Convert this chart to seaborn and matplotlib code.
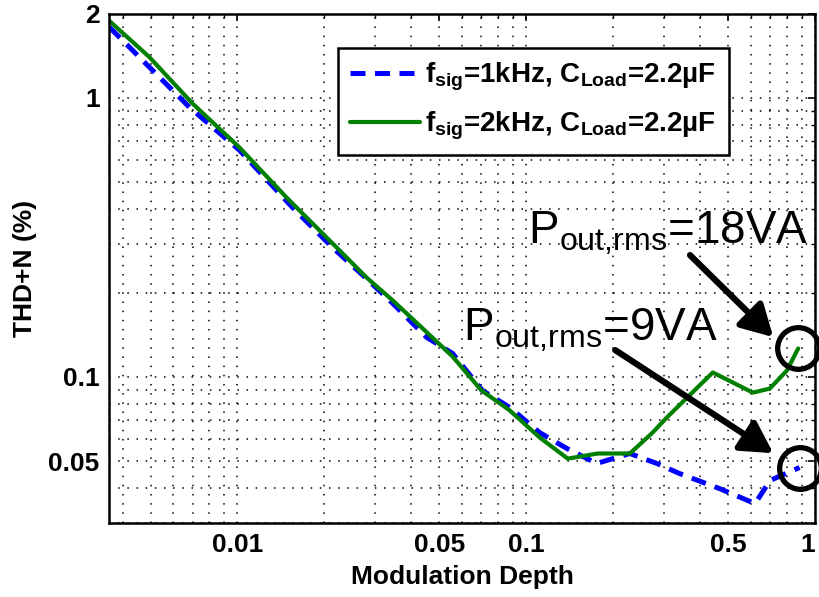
import matplotlib
matplotlib.use('Agg')
import matplotlib.pyplot as plt
from matplotlib.ticker import FixedLocator, FixedFormatter, LogLocator, NullFormatter
import seaborn as sns

# f_sig = 1 kHz (blue dashed)
depth_1k = [0.0036, 0.00433, 0.00682, 0.01016, 0.0155, 0.02134, 0.028, 0.0345, 0.0452,
            0.0556, 0.0705, 0.0877, 0.1114, 0.1381, 0.1755, 0.2286, 0.2836, 0.3397,
            0.4684, 0.6207, 0.699, 0.885]
thd_1k = [1.79, 1.48, 0.925, 0.649, 0.405, 0.291, 0.225, 0.1835, 0.1387,
          0.1214, 0.0895, 0.0778, 0.0632, 0.0555, 0.049, 0.0532, 0.049, 0.0451,
          0.0398, 0.0352, 0.0426, 0.0474]

# f_sig = 2 kHz (green solid)
depth_2k = [0.0036, 0.00495, 0.00698, 0.01016, 0.01477, 0.02258, 0.028, 0.0345, 0.0556,
            0.070, 0.0877, 0.1114, 0.1393, 0.177, 0.2286, 0.274, 0.307, 0.443,
            0.610, 0.698, 0.800, 0.875]
thd_2k = [1.885, 1.40, 0.955, 0.664, 0.440, 0.284, 0.227, 0.188, 0.1184,
          0.0895, 0.0759, 0.0607, 0.051, 0.0532, 0.0532, 0.0632, 0.0716, 0.1038,
          0.0879, 0.0909, 0.1055, 0.1265]

x_ticks = [0.01, 0.05, 0.1, 0.5, 1]
x_tick_labels = ['0.01', '0.05', '0.1', '0.5', '1']
y_ticks = [0.05, 0.1, 1, 2]
y_tick_labels = ['0.05', '0.1', '1', '2']

label_1k = r'f$\mathregular{_{sig}}$=1kHz, C$\mathregular{_{Load}}$=2.2µF'
label_2k = r'f$\mathregular{_{sig}}$=2kHz, C$\mathregular{_{Load}}$=2.2µF'
note_18 = r'P$\mathregular{_{out{,}rms}}$=18VA'
note_9 = r'P$\mathregular{_{out{,}rms}}$=9VA'

sns.set_style('white')
plt.rcParams['font.family'] = ['Liberation Sans', 'DejaVu Sans']
plt.rcParams['mathtext.default'] = 'regular'
plt.rcParams['text.color'] = 'k'
plt.rcParams['axes.labelcolor'] = 'k'
plt.rcParams['xtick.color'] = 'k'
plt.rcParams['ytick.color'] = 'k'

fig = plt.figure(figsize=(8.19, 5.97), dpi=100)
ax = fig.add_axes([0.1335, 0.124, 0.8615, 0.853])

sns.lineplot(x=depth_1k, y=thd_1k, ax=ax, color='#0000ff', lw=3.6,
             linestyle=(0, (3, 1.9)), sort=False, label=label_1k)
sns.lineplot(x=depth_2k, y=thd_2k, ax=ax, color='#008000', lw=3.0,
             sort=False, label=label_2k)

ax.set_xscale('log')
ax.set_yscale('log')
ax.set_xlim(0.0036, 1)
ax.set_ylim(0.03, 2)

ax.xaxis.set_major_locator(FixedLocator(x_ticks))
ax.xaxis.set_major_formatter(FixedFormatter(x_tick_labels))
ax.yaxis.set_major_locator(FixedLocator(y_ticks))
ax.yaxis.set_major_formatter(FixedFormatter(y_tick_labels))
ax.xaxis.set_minor_locator(LogLocator(base=10, subs=range(1, 10), numticks=20))
ax.yaxis.set_minor_locator(LogLocator(base=10, subs=range(1, 10), numticks=20))
ax.xaxis.set_minor_formatter(NullFormatter())
ax.yaxis.set_minor_formatter(NullFormatter())

ax.grid(True, which='both', color='k', lw=1.1, linestyle=(0, (1, 5)))
ax.tick_params(which='both', direction='in', top=True, right=True, color='k')
ax.tick_params(which='major', length=5, width=1.2, labelsize=19, pad=7)
ax.tick_params(which='minor', length=3, width=1.0)
for lab in ax.get_xticklabels() + ax.get_yticklabels():
    lab.set_fontweight('bold')
# keep the "1" at the right end inside the figure
ax.get_xticklabels()[-1].set_horizontalalignment('right')
for sp in ax.spines.values():
    sp.set_color('k')
    sp.set_linewidth(1.8)

ax.set_xlabel('Modulation Depth', fontsize=19, fontweight='bold', labelpad=6)
ax.set_ylabel('THD+N (%)', fontsize=19, fontweight='bold', labelpad=8)

leg = ax.legend(loc='upper left', bbox_to_anchor=(0.324, 0.932), fancybox=False,
                prop={'size': 20, 'weight': 'bold'}, handlelength=2.5,
                handletextpad=0.2, borderpad=0.45, labelspacing=0.6,
                borderaxespad=0, framealpha=1)
leg.get_frame().set_edgecolor('k')
leg.get_frame().set_linewidth(1.8)

# circles around the end points of both curves
ax.plot(depth_2k[-1], thd_2k[-1], 'o', ms=30, mfc='none', mec='k', mew=3.8, clip_on=False)
ax.plot(depth_1k[-1], thd_1k[-1], 'o', ms=30, mfc='none', mec='k', mew=3.8, clip_on=False)

arrow = dict(arrowstyle='-|>,head_length=0.5,head_width=0.28', color='k', lw=4.5,
             mutation_scale=38, shrinkA=0, shrinkB=0)
ax.annotate('', xy=(0.941, 0.365), xytext=(0.823, 0.526),
            xycoords='axes fraction', textcoords='axes fraction', arrowprops=arrow)
ax.annotate('', xy=(0.941, 0.137), xytext=(0.717, 0.3395),
            xycoords='axes fraction', textcoords='axes fraction', arrowprops=arrow)

ax.text(0.593, 0.5496, note_18, transform=ax.transAxes, fontsize=33,
        ha='left', va='baseline')
ax.text(0.501, 0.359, note_9, transform=ax.transAxes, fontsize=33,
        ha='left', va='baseline')

fig.savefig('out.png', dpi=100)
